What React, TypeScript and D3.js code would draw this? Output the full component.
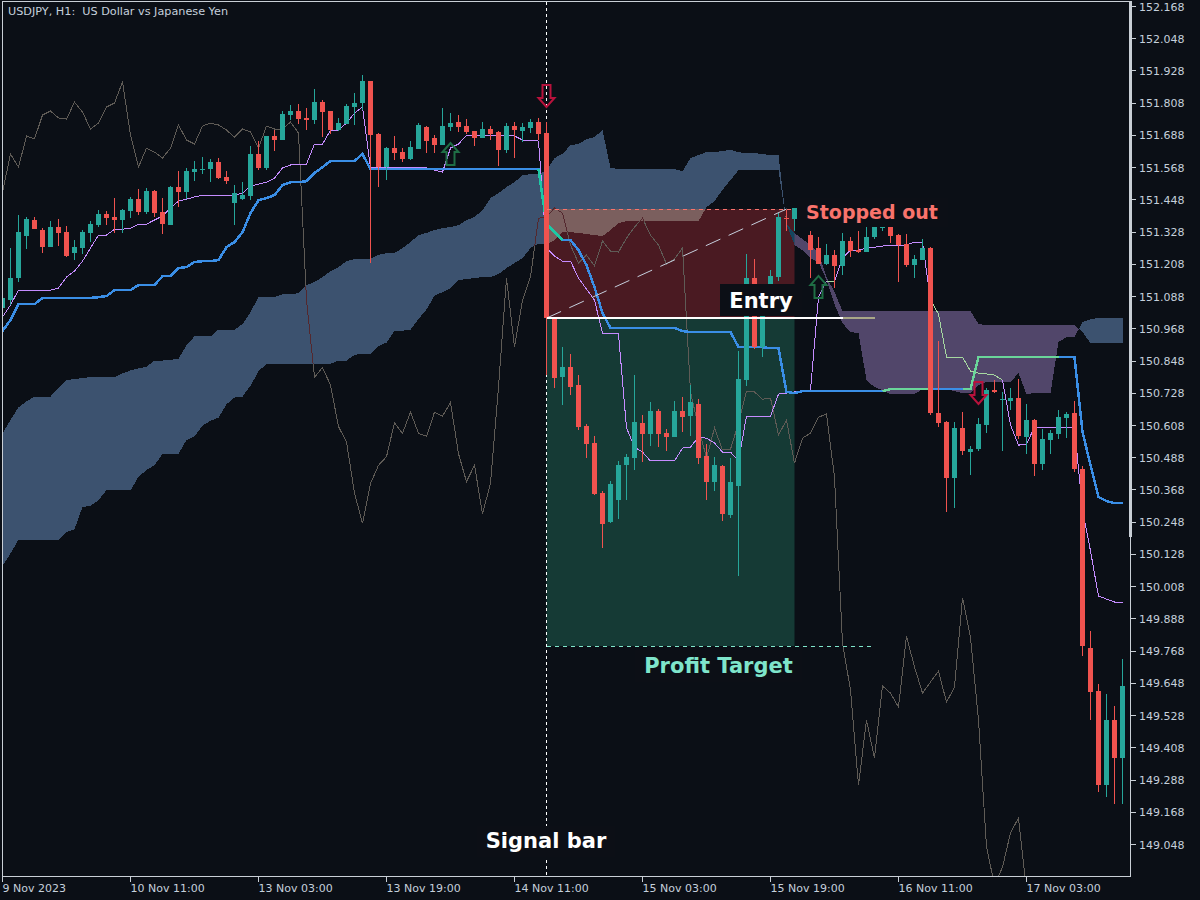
import * as d3 from "d3";
import { useEffect, useRef } from "react";

// USDJPY H1 candles, one entry per bar
const opens = [
    151.043, 151.073, 151.155, 151.311, 151.371, 151.334, 151.27, 151.345, 151.326, 151.248,
    151.267, 151.323, 151.352, 151.393, 151.382, 151.371, 151.404, 151.449, 151.401, 151.479,
    151.401, 151.352, 151.494, 151.475, 151.55, 151.557, 151.561, 151.587, 151.531, 151.434,
    151.449, 151.46, 151.617, 151.565, 151.684, 151.669, 151.762, 151.777, 151.751, 151.743,
    151.81, 151.777, 151.706, 151.728, 151.792, 151.807, 151.888, 151.691, 151.568, 151.639,
    151.624, 151.598, 151.635, 151.717, 151.676, 151.65, 151.717, 151.736, 151.721, 151.702,
    151.676, 151.71, 151.699, 151.632, 151.721, 151.702, 151.713, 151.736, 151.695, 151.006,
    150.786, 150.824, 150.757, 150.604, 150.541, 150.355, 150.247, 150.329, 150.459, 150.485,
    150.615, 150.574, 150.66, 150.578, 150.563, 150.66, 150.641, 150.686, 150.492, 150.396,
    150.455, 150.273, 150.381, 150.775, 151.155, 150.898, 151.073, 151.159, 151.378, 151.375,
    151.416, 151.315, 151.267, 151.207, 151.241, 151.2, 151.293, 151.259, 151.252, 151.308,
    151.341, 151.349, 151.315, 151.282, 151.203, 151.222, 151.267, 150.652, 150.619, 150.41,
    150.597, 150.507, 150.518, 150.608, 150.738, 150.701, 150.697, 150.708, 150.563, 150.626,
    150.463, 150.552, 150.574, 150.634, 150.652, 150.444, 149.777, 149.617, 149.267, 149.509,
    149.368,
];
const highs = [
    151.081, 151.267, 151.39, 151.382, 151.382, 151.341, 151.367, 151.375, 151.349, 151.296,
    151.334, 151.367, 151.408, 151.404, 151.453, 151.412, 151.457, 151.486, 151.49, 151.483,
    151.453, 151.497, 151.553, 151.565, 151.591, 151.605, 151.598, 151.602, 151.553, 151.501,
    151.512, 151.646, 151.665, 151.684, 151.706, 151.777, 151.799, 151.803, 151.788, 151.859,
    151.818, 151.777, 151.751, 151.803, 151.844, 151.911, 151.888, 151.695, 151.643, 151.684,
    151.639, 151.665, 151.732, 151.721, 151.687, 151.788, 151.769, 151.762, 151.747, 151.702,
    151.736, 151.721, 151.702, 151.732, 151.736, 151.732, 151.747, 151.751, 151.736, 151.006,
    150.898, 150.872, 150.794, 150.611, 150.567, 150.362, 150.399, 150.474, 150.5, 150.794,
    150.645, 150.693, 150.667, 150.593, 150.697, 150.712, 150.757, 150.705, 150.537, 150.489,
    150.459, 150.485, 150.883, 151.244, 151.226, 151.088, 151.185, 151.397, 151.408, 151.416,
    151.427, 151.33, 151.308, 151.282, 151.259, 151.323, 151.308, 151.33, 151.345, 151.349,
    151.356, 151.356, 151.319, 151.319, 151.241, 151.3, 151.27, 150.92, 150.623, 150.619,
    150.656, 150.53, 150.634, 150.745, 150.775, 150.731, 150.745, 150.779, 150.686, 150.63,
    150.593, 150.589, 150.664, 150.656, 150.697, 150.455, 149.841, 149.643, 149.606, 149.562,
    149.737,
];
const lows = [
    151.028, 151.055, 151.14, 151.263, 151.337, 151.248, 151.27, 151.274, 151.233, 151.222,
    151.244, 151.289, 151.345, 151.352, 151.323, 151.323, 151.378, 151.39, 151.393, 151.382,
    151.319, 151.352, 151.419, 151.449, 151.516, 151.542, 151.512, 151.524, 151.505, 151.352,
    151.445, 151.445, 151.557, 151.557, 151.628, 151.669, 151.743, 151.728, 151.706, 151.728,
    151.68, 151.691, 151.702, 151.728, 151.725, 151.78, 151.211, 151.494, 151.52, 151.594,
    151.587, 151.594, 151.635, 151.62, 151.62, 151.65, 151.702, 151.699, 151.691, 151.646,
    151.676, 151.669, 151.572, 151.62, 151.602, 151.661, 151.695, 151.669, 150.794, 150.745,
    150.682, 150.719, 150.589, 150.485, 150.347, 150.15, 150.243, 150.258, 150.329, 150.44,
    150.47, 150.53, 150.526, 150.511, 150.563, 150.582, 150.567, 150.463, 150.329, 150.362,
    150.25, 150.261, 150.046, 150.753, 150.891, 150.861, 151.055, 151.144, 151.33, 151.33,
    151.356, 151.155, 151.207, 151.203, 151.118, 151.166, 151.233, 151.248, 151.252, 151.3,
    151.33, 151.285, 151.14, 151.196, 151.155, 151.222, 150.645, 150.6, 150.284, 150.299,
    150.496, 150.422, 150.511, 150.578, 150.727, 150.511, 150.664, 150.556, 150.5, 150.418,
    150.44, 150.5, 150.556, 150.559, 150.433, 149.748, 149.509, 149.241, 149.223, 149.197,
    149.197,
];
const closes = [
    151.081, 151.155, 151.326, 151.375, 151.337, 151.27, 151.345, 151.323, 151.237, 151.27,
    151.326, 151.356, 151.393, 151.378, 151.371, 151.408, 151.449, 151.401, 151.479, 151.397,
    151.356, 151.494, 151.475, 151.553, 151.561, 151.561, 151.587, 151.527, 151.516, 151.471,
    151.464, 151.617, 151.565, 151.684, 151.669, 151.766, 151.777, 151.747, 151.743, 151.81,
    151.773, 151.706, 151.732, 151.795, 151.807, 151.888, 151.687, 151.568, 151.639, 151.62,
    151.598, 151.643, 151.725, 151.665, 151.65, 151.721, 151.732, 151.717, 151.699, 151.676,
    151.71, 151.691, 151.632, 151.721, 151.706, 151.717, 151.736, 151.691, 151.006, 150.783,
    150.824, 150.749, 150.6, 150.537, 150.351, 150.239, 150.388, 150.459, 150.489, 150.619,
    150.574, 150.66, 150.574, 150.563, 150.66, 150.637, 150.693, 150.485, 150.396, 150.459,
    150.276, 150.396, 150.779, 151.155, 150.898, 151.073, 151.162, 151.382, 151.375, 151.416,
    151.363, 151.259, 151.207, 151.241, 151.2, 151.293, 151.255, 151.252, 151.308, 151.345,
    151.345, 151.311, 151.278, 151.203, 151.226, 151.267, 150.652, 150.615, 150.41, 150.597,
    150.511, 150.518, 150.611, 150.738, 150.731, 150.704, 150.708, 150.567, 150.626, 150.463,
    150.556, 150.578, 150.637, 150.649, 150.444, 149.785, 149.614, 149.267, 149.509, 149.368,
    149.636,
];

// Ichimoku lines
const tenkan = [
    151.01, 151.055, 151.11, 151.11, 151.11, 151.11, 151.11, 151.118, 151.159, 151.181,
    151.218, 151.267, 151.315, 151.315, 151.337, 151.337, 151.341, 151.356, 151.356, 151.371,
    151.386, 151.416, 151.442, 151.449, 151.457, 151.464, 151.464, 151.464, 151.464, 151.464,
    151.471, 151.497, 151.505, 151.512, 151.527, 151.565, 151.576, 151.579, 151.579, 151.654,
    151.654, 151.706, 151.706, 151.732, 151.769, 151.792, 151.565, 151.565, 151.565, 151.565,
    151.565, 151.565, 151.565, 151.565, 151.557, 151.55, 151.639, 151.654, 151.687, 151.687,
    151.687, 151.687, 151.687, 151.684, 151.684, 151.669, 151.669, 151.665, 151.267, 151.237,
    151.218, 151.218, 151.155, 151.114, 151.073, 150.95, 150.95, 150.947, 150.597, 150.526,
    150.507, 150.474, 150.474, 150.474, 150.474, 150.522, 150.526, 150.563, 150.559, 150.541,
    150.507, 150.507, 150.474, 150.641, 150.641, 150.641, 150.641, 150.723, 150.727, 150.731,
    150.734, 150.738, 151.084, 151.144, 151.144, 151.229, 151.259, 151.259, 151.267, 151.27,
    151.274, 151.278, 151.278, 151.278, 151.289, 151.289, 151.073, 151.021, 150.861, 150.861,
    150.861, 150.809, 150.801, 150.798, 150.794, 150.775, 150.608, 150.533, 150.537, 150.6,
    150.6, 150.6, 150.6, 150.6, 150.6, 150.291, 150.139, 149.971, 149.96, 149.949,
    149.949,
];
const kijun = [
    150.958, 150.999, 151.058, 151.058, 151.058, 151.081, 151.081, 151.081, 151.081, 151.081,
    151.081, 151.081, 151.084, 151.088, 151.11, 151.11, 151.11, 151.129, 151.129, 151.129,
    151.162, 151.162, 151.192, 151.196, 151.215, 151.218, 151.218, 151.222, 151.27, 151.289,
    151.326, 151.397, 151.445, 151.453, 151.464, 151.501, 151.512, 151.512, 151.516, 151.546,
    151.568, 151.591, 151.591, 151.591, 151.591, 151.617, 151.561, 151.561, 151.561, 151.561,
    151.561, 151.561, 151.561, 151.561, 151.561, 151.561, 151.561, 151.561, 151.561, 151.561,
    151.561, 151.561, 151.561, 151.561, 151.561, 151.561, 151.561, 151.561, 151.356, 151.326,
    151.296, 151.296, 151.259, 151.203, 151.121, 151.025, 150.969, 150.969, 150.969, 150.969,
    150.969, 150.969, 150.969, 150.969, 150.969, 150.958, 150.954, 150.954, 150.954, 150.954,
    150.954, 150.954, 150.898, 150.898, 150.898, 150.898, 150.894, 150.894, 150.731, 150.727,
    150.734, 150.734, 150.734, 150.734, 150.734, 150.734, 150.734, 150.734, 150.734, 150.734,
    150.734, 150.742, 150.742, 150.742, 150.742, 150.742, 150.742, 150.742, 150.742, 150.742,
    150.742, 150.742, 150.861, 150.861, 150.861, 150.861, 150.861, 150.861, 150.861, 150.861,
    150.861, 150.861, 150.861, 150.861, 150.861, 150.582, 150.459, 150.34, 150.325, 150.317,
    150.317,
];
const chikou = [
    151.475, 151.617, 151.568, 151.684, 151.673, 151.762, 151.777, 151.751, 151.747, 151.81,
    151.773, 151.71, 151.732, 151.792, 151.807, 151.885, 151.687, 151.568, 151.639, 151.624,
    151.602, 151.639, 151.725, 151.669, 151.654, 151.721, 151.732, 151.725, 151.706, 151.68,
    151.71, 151.699, 151.639, 151.721, 151.71, 151.71, 151.736, 151.695, 151.073, 150.786,
    150.822, 150.757, 150.602, 150.545, 150.354, 150.242, 150.39, 150.458, 150.49, 150.616,
    150.577, 150.656, 150.577, 150.566, 150.656, 150.641, 150.692, 150.501, 150.397, 150.458,
    150.278, 150.39, 150.75, 151.155, 150.898, 151.073, 151.159, 151.378, 151.382, 151.416,
    151.397, 151.278, 151.211, 151.241, 151.2, 151.293, 151.255, 151.252, 151.304, 151.345,
    151.378, 151.315, 151.278, 151.207, 151.226, 151.267, 150.731, 150.6, 150.485, 150.597,
    150.515, 150.518, 150.615, 150.734, 150.731, 150.704, 150.708, 150.571, 150.626, 150.466,
    150.559, 150.578, 150.637, 150.649, 150.414, 149.796, 149.621, 149.267, 149.509, 149.368,
    149.636, 149.61, 149.558, 149.822, 149.707, 149.61, 149.651, 149.692, 149.576, 149.632,
    149.964, 149.818, 149.509, 149.037, 148.895, 148.962, 149.089, 149.145, 148.877,
];
const senkouA = [
    150.577, 150.627, 150.674, 150.696, 150.714, 150.714, 150.714, 150.746, 150.775, 150.779,
    150.783, 150.786, 150.786, 150.786, 150.786, 150.8, 150.811, 150.819, 150.825, 150.848,
    150.848, 150.851, 150.854, 150.905, 150.938, 150.938, 150.938, 150.963, 150.963, 150.963,
    150.984, 151.028, 151.085, 151.085, 151.085, 151.095, 151.095, 151.099, 151.129, 151.14,
    151.159, 151.181, 151.196, 151.218, 151.226, 151.226, 151.226, 151.241, 151.248, 151.248,
    151.267, 151.289, 151.315, 151.323, 151.334, 151.341, 151.345, 151.352, 151.371, 151.382,
    151.408, 151.453, 151.471, 151.494, 151.512, 151.538, 151.542, 151.542, 151.557, 151.602,
    151.617, 151.65, 151.654, 151.672, 151.68, 151.706, 151.565, 151.561, 151.561, 151.561,
    151.561, 151.561, 151.561, 151.561, 151.561, 151.553, 151.602, 151.613, 151.624, 151.624,
    151.628, 151.632, 151.624, 151.62, 151.62, 151.617, 151.613, 151.613, 151.356, 151.278,
    151.259, 151.229, 151.215, 151.148, 151.058, 150.987, 150.954, 150.95, 150.775, 150.749,
    150.738, 150.723, 150.723, 150.723, 150.723, 150.742, 150.742, 150.742, 150.742, 150.734,
    150.727, 150.727, 150.757, 150.768, 150.768, 150.768, 150.768, 150.801, 150.723, 150.727,
    150.727, 150.727, 150.917, 150.935, 150.935, 150.991, 151.002, 151.006, 151.006, 151.006,
    151.006,
];
const senkouB = [
    150.083, 150.13, 150.181, 150.181, 150.181, 150.181, 150.181, 150.181, 150.21, 150.22,
    150.303, 150.307, 150.328, 150.365, 150.365, 150.365, 150.365, 150.415, 150.44, 150.458,
    150.501, 150.501, 150.501, 150.552, 150.566, 150.606, 150.624, 150.635, 150.685, 150.71,
    150.714, 150.754, 150.808, 150.836, 150.836, 150.836, 150.836, 150.836, 150.836, 150.836,
    150.836, 150.836, 150.848, 150.848, 150.869, 150.873, 150.873, 150.901, 150.915, 150.959,
    150.959, 150.963, 151.003, 151.038, 151.089, 151.103, 151.118, 151.148, 151.151, 151.155,
    151.159, 151.159, 151.17, 151.192, 151.211, 151.229, 151.267, 151.282, 151.282, 151.296,
    151.326, 151.326, 151.323, 151.319, 151.315, 151.311, 151.334, 151.36, 151.367, 151.367,
    151.367, 151.367, 151.367, 151.367, 151.367, 151.367, 151.367, 151.367, 151.419, 151.442,
    151.483, 151.52, 151.557, 151.557, 151.557, 151.557, 151.557, 151.557, 151.356, 151.323,
    151.3, 151.278, 151.248, 151.159, 151.103, 151.032, 151.032, 151.032, 151.032, 151.032,
    151.032, 151.032, 151.032, 151.032, 151.032, 151.032, 151.032, 151.032, 151.032, 151.032,
    151.032, 151.032, 150.984, 150.98, 150.98, 150.98, 150.98, 150.98, 150.98, 150.98,
    150.98, 150.98, 150.98, 150.98, 150.98, 150.954, 150.913, 150.913, 150.913, 150.913,
    150.913,
];

// bar index ranges where the lines change colour
const kijunTealRuns = [[67, 70]];
const kijunGreenRuns = [[110, 116], [120, 132]];
const tenkanLimeRuns = [[103, 104], [116, 125]];

const priceTicks = [
    152.168, 152.048, 151.928, 151.808, 151.688, 151.568, 151.448, 151.328, 151.208,
    151.088, 150.968, 150.848, 150.728, 150.608, 150.488, 150.368, 150.248, 150.128,
    150.008, 149.888, 149.768, 149.648, 149.528, 149.408, 149.288, 149.168, 149.048,
];
const timeTickBars = [0, 16, 32, 48, 64, 80, 96, 112, 128];
const timeTickLabels = [
    "9 Nov 2023", "10 Nov 11:00", "13 Nov 03:00", "13 Nov 19:00", "14 Nov 11:00",
    "15 Nov 03:00", "15 Nov 19:00", "16 Nov 11:00", "17 Nov 03:00",
];

// the trade drawn on the signal bar
const signalBar = 68;
const tradeEndBar = 99;
const lineEndBar = 109;
const entryPrice = 151.006;
const stopPrice = 151.412;
const targetPrice = 149.785;

// arrow tail price: top of a down arrow, bottom of an up arrow
const arrowBars = [68, 56, 102, 122];
const arrowPrices = [151.874, 151.576, 151.081, 150.768];
const arrowDirs = ["down", "up", "up", "down"];

const BG = "#0b0f16";
const AXIS = "#c9cfd6";
const AXIS_TEXT = "#c5d0dc";
const TEAL = "#26a69a";
const RED = "#f0534f";
const CLOUD_BLUE = "#3c526f";
const CLOUD_PURPLE = "#51466a";
const FONT = "'DejaVu Sans', sans-serif";
const LABEL_FONT = "'DejaVu Sans', sans-serif";

function drawChart(svgElement: SVGSVGElement) {
    const svg = d3.select(svgElement);
    svg.selectAll("*").remove();

    const x = d3.scaleLinear().domain([0, 140]).range([2.5, 1122.5]);
    const y = d3.scaleLinear().domain([152.168, 149.048]).range([6, 844]);

    svg.append("rect").attr("width", 1200).attr("height", 900).attr("fill", BG);

    const defs = svg.append("defs");
    defs.append("clipPath").attr("id", "plot")
        .append("rect").attr("x", 3).attr("y", 2).attr("width", 1127).attr("height", 874);

    const stopZone = {
        x: x(signalBar),
        y: y(stopPrice),
        width: x(tradeEndBar) - x(signalBar),
        height: y(entryPrice) - y(stopPrice),
    };
    const targetZone = {
        x: x(signalBar),
        y: y(entryPrice),
        width: x(tradeEndBar) - x(signalBar),
        height: y(targetPrice) - y(entryPrice),
    };
    defs.append("clipPath").attr("id", "stop-zone")
        .append("rect")
        .attr("x", stopZone.x).attr("y", stopZone.y)
        .attr("width", stopZone.width).attr("height", stopZone.height);

    // split the cloud where the two spans cross
    type CloudPoint = { i: number; a: number; b: number };
    const runs: { up: boolean; points: CloudPoint[] }[] = [];
    senkouA.forEach((a, i) => {
        const b = senkouB[i];
        const up = a >= b;
        const last = runs[runs.length - 1];
        if (!last) {
            runs.push({ up, points: [{ i, a, b }] });
        } else if (last.up === up) {
            last.points.push({ i, a, b });
        } else {
            const prev = last.points[last.points.length - 1];
            const d0 = prev.a - prev.b;
            const d1 = a - b;
            const t = d0 / (d0 - d1);
            const cross = prev.a + (a - prev.a) * t;
            const at = { i: prev.i + t, a: cross, b: cross };
            last.points.push(at);
            runs.push({ up, points: [at, { i, a, b }] });
        }
    });
    const cloudArea = d3.area<CloudPoint>()
        .x((d) => x(d.i))
        .y0((d) => y(d.a))
        .y1((d) => y(d.b));

    const plot = svg.append("g").attr("clip-path", "url(#plot)");

    // trade zones sit behind everything
    plot.append("rect")
        .attr("x", stopZone.x).attr("y", stopZone.y)
        .attr("width", stopZone.width).attr("height", stopZone.height)
        .attr("fill", "#4a1a22");
    plot.append("rect")
        .attr("x", targetZone.x).attr("y", targetZone.y)
        .attr("width", targetZone.width).attr("height", targetZone.height)
        .attr("fill", "#153a35");

    const seriesLine = (values: number[], from = 0, to = values.length - 1) =>
        d3.line<number>()
            .x((_, k) => x(from + k))
            .y((d) => y(d))(values.slice(from, to + 1));

    // chikou runs under the cloud
    plot.append("path")
        .attr("d", seriesLine(chikou))
        .attr("fill", "none")
        .attr("stroke", "#5f5b56")
        .attr("stroke-width", 1)
        .style("shape-rendering", "crispEdges");

    const cloudClip = defs.append("clipPath").attr("id", "cloud");
    runs.forEach((run) => {
        const d = cloudArea(run.points);
        plot.append("path")
            .attr("d", d)
            .attr("fill", run.up ? CLOUD_BLUE : CLOUD_PURPLE)
            .style("shape-rendering", "crispEdges");
        // cloud seen through the stop zone
        plot.append("g")
            .attr("clip-path", "url(#stop-zone)")
            .append("path")
            .attr("d", d)
            .attr("fill", run.up ? "#7b5f5e" : "#14455e")
            .style("shape-rendering", "crispEdges");
        cloudClip.append("path").attr("d", d);
    });

    plot.append("g")
        .attr("clip-path", "url(#cloud)")
        .append("path")
        .attr("d", seriesLine(chikou))
        .attr("fill", "none")
        .attr("stroke", "#54282e")
        .attr("stroke-width", 1)
        .style("shape-rendering", "crispEdges");

    // signal bar marker
    plot.append("line")
        .attr("x1", x(signalBar)).attr("x2", x(signalBar))
        .attr("y1", 2).attr("y2", 876)
        .attr("stroke", "#ffffff")
        .attr("stroke-dasharray", "3 3")
        .style("shape-rendering", "crispEdges");

    // tenkan
    plot.append("path")
        .attr("d", seriesLine(tenkan))
        .attr("fill", "none")
        .attr("stroke", "#c58cff")
        .attr("stroke-width", 1)
        .style("shape-rendering", "crispEdges");
    tenkanLimeRuns.forEach(([from, to]) => {
        plot.append("path")
            .attr("d", seriesLine(tenkan, from, to))
            .attr("fill", "none")
            .attr("stroke", "#a6d8a0")
            .attr("stroke-width", 1)
            .style("shape-rendering", "crispEdges");
    });

    // kijun
    plot.append("path")
        .attr("d", seriesLine(kijun))
        .attr("fill", "none")
        .attr("stroke", "#3a8ee6")
        .attr("stroke-width", 2.5)
        .style("shape-rendering", "crispEdges");
    kijunTealRuns.forEach(([from, to]) => {
        plot.append("path")
            .attr("d", seriesLine(kijun, from, to))
            .attr("fill", "none")
            .attr("stroke", "#1ec8a5")
            .attr("stroke-width", 2.5)
            .style("shape-rendering", "crispEdges");
    });
    kijunGreenRuns.forEach(([from, to]) => {
        plot.append("path")
            .attr("d", seriesLine(kijun, from, to))
            .attr("fill", "none")
            .attr("stroke", "#6ad69a")
            .attr("stroke-width", 2.5)
            .style("shape-rendering", "crispEdges");
    });

    // candles
    const candles = plot.append("g").style("shape-rendering", "crispEdges");
    opens.forEach((open, i) => {
        const close = closes[i];
        const color = close >= open ? TEAL : RED;
        candles.append("rect")
            .attr("x", x(i) - 0.5)
            .attr("y", y(highs[i]))
            .attr("width", 1)
            .attr("height", Math.max(1, y(lows[i]) - y(highs[i])))
            .attr("fill", color);
        candles.append("rect")
            .attr("x", x(i) - 2.5)
            .attr("y", y(Math.max(open, close)))
            .attr("width", 5)
            .attr("height", Math.max(1, Math.abs(y(open) - y(close))))
            .attr("fill", color);
    });

    // trade lines
    plot.append("line")
        .attr("x1", x(signalBar)).attr("x2", x(lineEndBar))
        .attr("y1", y(targetPrice)).attr("y2", y(targetPrice))
        .attr("stroke", "#7fe5cb")
        .attr("stroke-dasharray", "4 4")
        .style("shape-rendering", "crispEdges");
    plot.append("line")
        .attr("x1", x(signalBar)).attr("x2", x(tradeEndBar))
        .attr("y1", y(stopPrice)).attr("y2", y(stopPrice))
        .attr("stroke", "#f9736c")
        .attr("stroke-dasharray", "4 4")
        .style("shape-rendering", "crispEdges");
    plot.append("line")
        .attr("x1", x(signalBar)).attr("x2", x(98))
        .attr("y1", y(entryPrice)).attr("y2", y(stopPrice))
        .attr("stroke", "#c6cfdd")
        .attr("stroke-dasharray", "16 9");
    plot.append("line")
        .attr("x1", x(signalBar)).attr("x2", x(105))
        .attr("y1", y(entryPrice)).attr("y2", y(entryPrice))
        .attr("stroke", "#ffffff")
        .attr("stroke-width", 2)
        .style("shape-rendering", "crispEdges");
    plot.append("line")
        .attr("x1", x(105)).attr("x2", x(lineEndBar))
        .attr("y1", y(entryPrice)).attr("y2", y(entryPrice))
        .attr("stroke", "#a9a788")
        .attr("stroke-width", 2)
        .style("shape-rendering", "crispEdges");

    // hollow entry arrows
    arrowBars.forEach((bar, k) => {
        const isDown = arrowDirs[k] === "down";
        const s = isDown ? 1 : -1;
        const ax = x(bar);
        const ay = y(arrowPrices[k]);
        const shape = d3.path();
        shape.moveTo(ax - 4, ay);
        shape.lineTo(ax + 4, ay);
        shape.lineTo(ax + 4, ay + s * 13);
        shape.lineTo(ax + 8, ay + s * 13);
        shape.lineTo(ax, ay + s * 22);
        shape.lineTo(ax - 8, ay + s * 13);
        shape.lineTo(ax - 4, ay + s * 13);
        shape.closePath();
        plot.append("path")
            .attr("d", shape.toString())
            .attr("fill", "none")
            .attr("stroke", isDown ? "#b8123c" : "#1f6e45")
            .attr("stroke-width", 2);
    });

    // annotations on dark plates
    const notes = [
        { text: "Entry", cx: 761, baseline: 308, plate: [720, 284, 82, 32], color: "#ffffff", size: 21 },
        { text: "Stopped out", cx: 872, baseline: 219, plate: [797, 198, 151, 29], color: "#f9736c", size: 19 },
        { text: "Profit Target", cx: 718.5, baseline: 673, plate: [635, 650, 167, 32], color: "#7fe5cb", size: 21 },
        { text: "Signal bar", cx: 546, baseline: 848, plate: [477, 826, 138, 31], color: "#ffffff", size: 21 },
    ];
    notes.forEach((note) => {
        svg.append("rect")
            .attr("x", note.plate[0]).attr("y", note.plate[1])
            .attr("width", note.plate[2]).attr("height", note.plate[3])
            .attr("fill", "#0c0f16");
        svg.append("text")
            .attr("x", note.cx).attr("y", note.baseline)
            .attr("text-anchor", "middle")
            .style("font-family", LABEL_FONT)
            .style("font-size", `${note.size}px`)
            .style("font-weight", "700")
            .style("fill", note.color)
            .text(note.text);
    });

    // frame
    const frame = svg.append("g").style("shape-rendering", "crispEdges");
    frame.append("line").attr("x1", 2.5).attr("x2", 2.5).attr("y1", 1).attr("y2", 877).attr("stroke", AXIS);
    frame.append("line").attr("x1", 2).attr("x2", 1131).attr("y1", 1.5).attr("y2", 1.5).attr("stroke", AXIS);
    frame.append("line").attr("x1", 2).attr("x2", 1131).attr("y1", 876.5).attr("y2", 876.5).attr("stroke", AXIS);
    frame.append("line").attr("x1", 1130.5).attr("x2", 1130.5).attr("y1", 1).attr("y2", 877).attr("stroke", AXIS);
    // price axis scroll thumb
    frame.append("rect").attr("x", 1129).attr("y", 1).attr("width", 3).attr("height", 536).attr("fill", AXIS);

    // price axis
    priceTicks.forEach((tick) => {
        frame.append("line")
            .attr("x1", 1131).attr("x2", 1136)
            .attr("y1", Math.round(y(tick)) + 0.5).attr("y2", Math.round(y(tick)) + 0.5)
            .attr("stroke", AXIS);
        svg.append("text")
            .attr("x", 1139).attr("y", y(tick) + 4.5)
            .style("font-family", FONT)
            .style("font-size", "11px")
            .style("fill", AXIS_TEXT)
            .text(tick.toFixed(3));
    });

    // time axis
    timeTickBars.forEach((bar, k) => {
        const tx = Math.floor(x(bar)) + 0.5;
        frame.append("line")
            .attr("x1", tx).attr("x2", tx)
            .attr("y1", 877).attr("y2", 882)
            .attr("stroke", AXIS);
        svg.append("text")
            .attr("x", tx).attr("y", 892)
            .style("font-family", FONT)
            .style("font-size", "11px")
            .style("fill", AXIS_TEXT)
            .text(timeTickLabels[k]);
    });

    svg.append("text")
        .attr("x", 8).attr("y", 15)
        .attr("textLength", 220)
        .attr("lengthAdjust", "spacingAndGlyphs")
        .style("font-family", FONT)
        .style("font-size", "11px")
        .style("fill", AXIS_TEXT)
        .style("white-space", "pre")
        .text("USDJPY, H1:  US Dollar vs Japanese Yen");
}

export default function App() {
    const chartRef = useRef<SVGSVGElement | null>(null);

    useEffect(() => {
        document.body.style.margin = "0";
        document.body.style.background = BG;
        if (chartRef.current) {
            drawChart(chartRef.current);
        }
    }, []);

    return (
        <svg
            ref={chartRef}
            width={1200}
            height={900}
            style={{ display: "block" }}
        ></svg>
    );
}
